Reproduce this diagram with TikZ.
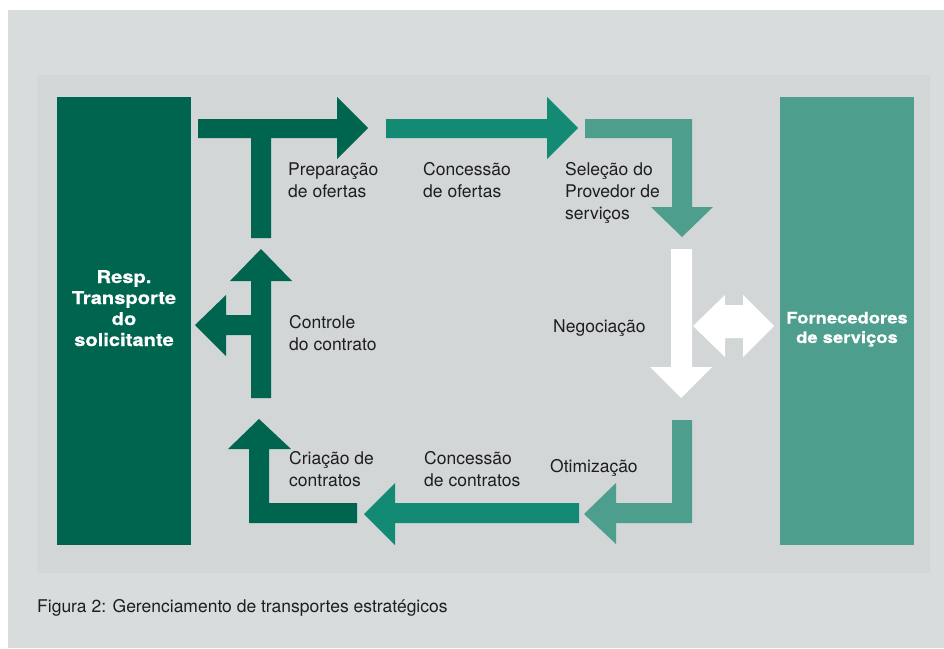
\documentclass[tikz,border=0pt]{standalone}
\usepackage{fontspec}
\setmainfont{TeX Gyre Heros}
\newfontfamily\heavy{TeX Gyre Heros}[FakeStretch=1.15,FakeBold=0.6]
\definecolor{darkg}{RGB}{0,101,79}
\definecolor{midg}{RGB}{18,138,116}
\definecolor{lightg}{RGB}{77,158,141}
\definecolor{outerbg}{RGB}{216,220,221}
\definecolor{innerbg}{RGB}{210,214,215}
\definecolor{txt}{RGB}{30,30,30}
\begin{document}
\begin{tikzpicture}[x=1pt,y=-1pt,
  lbl/.style={font=\fontsize{17.5}{22}\selectfont, text=txt, align=left, inner sep=0pt, anchor=base west},
  panel/.style={draw=none, inner sep=0pt, minimum width=134pt, minimum height=448pt},
  boxlbl/.style={font=\heavy\bfseries, text=white, align=center, inner sep=0pt, anchor=base}
]
\useasboundingbox (0,0) rectangle (944,648);
\fill[white] (0,0) rectangle (944,648);
\fill[outerbg] (8,10) rectangle (944,648);
\fill[innerbg] (37,75) rectangle (930,573);

\node[panel, fill=darkg] (req) at (124,321) {};
\node[panel, fill=lightg] (forn) at (847,321) {};
\node[boxlbl, font=\heavy\bfseries\fontsize{17.5}{21}\selectfont] (reqlbl) at (124,346) {Resp.\\Transporte\\do\\solicitante};
\node[boxlbl, font=\heavy\bfseries\fontsize{16}{19.5}\selectfont] (fornlbl) at (847,343) {Fornecedores\\de serviços};

% arrow 1: T
\fill[darkg] (198,119) -- (337,119) -- (337,97) -- (368,128) -- (337,159) -- (337,138) -- (271,138) -- (271,238) -- (251,238) -- (251,138) -- (198,138) -- cycle;
% arrow 2
\fill[midg] (386,119) -- (547,119) -- (547,97) -- (578,128) -- (547,159) -- (547,138) -- (386,138) -- cycle;
% arrow 3
\fill[lightg] (585,119) -- (692,119) -- (692,207) -- (713,207) -- (682,237) -- (651,207) -- (672,207) -- (672,138) -- (585,138) -- cycle;
% white down arrow
\fill[white] (671,249) -- (692,249) -- (692,367) -- (712,367) -- (681,398) -- (650,367) -- (671,367) -- cycle;
% white double arrow
\fill[white] (693,326) -- (725,295) -- (725,305) -- (743,305) -- (743,295) -- (774,326) -- (743,357) -- (743,338) -- (725,338) -- (725,357) -- cycle;
% arrow 4: control
\fill[darkg] (251,398) -- (251,335) -- (226,335) -- (226,356) -- (195,325) -- (226,295) -- (226,315) -- (251,315) -- (251,281) -- (230,281) -- (261,249) -- (292,281) -- (271,281) -- (271,398) -- cycle;
% arrow 5
\fill[darkg] (357,503) -- (357,523) -- (249,523) -- (249,449) -- (228,449) -- (259,419) -- (291,449) -- (269,449) -- (269,503) -- cycle;
% arrow 6
\fill[midg] (579,503) -- (579,523) -- (395,523) -- (395,545) -- (364,514) -- (395,483) -- (395,503) -- cycle;
% arrow 7
\fill[lightg] (672,420) -- (692,420) -- (692,523) -- (616,523) -- (616,544) -- (584,514) -- (616,483) -- (616,503) -- (672,503) -- cycle;

\node[lbl] (prep) at (288,197) {Preparação\\de ofertas};
\node[lbl] (conc1) at (423,197) {Concessão\\de ofertas};
\node[lbl] (sel) at (565,219) {Seleção do\\Provedor de\\serviços};
\node[lbl] (neg) at (553,332) {Negociação};
\node[lbl] (ctrl) at (289,350) {Controle\\do contrato};
\node[lbl] (cria) at (289,486) {Criação de\\contratos};
\node[lbl] (conc2) at (424,486) {Concessão\\de contratos};
\node[lbl] (otim) at (550,472) {Otimização};
\node[lbl] (cap) at (37,612) {Figura 2: Gerenciamento de transportes estratégicos};
\end{tikzpicture}
\end{document}
